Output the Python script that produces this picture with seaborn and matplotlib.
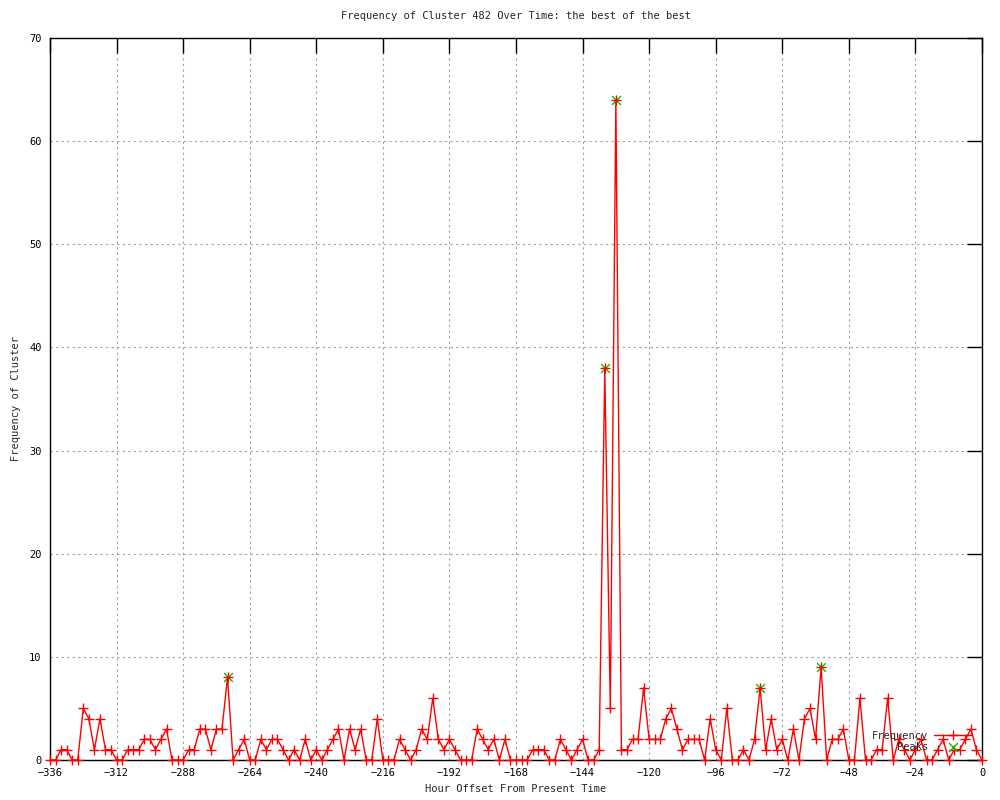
import matplotlib
matplotlib.use('Agg')
import matplotlib.pyplot as plt
import pandas as pd
import seaborn as sns

# hour offsets, one sample every 2 hours
hours = list(range(-336, 1, 2))
freq = [0, 0, 1, 1, 0, 0, 5, 4, 1, 4, 1, 1, 0, 0, 1, 1, 1, 2, 2, 1,
        2, 3, 0, 0, 0, 1, 1, 3, 3, 1, 3, 3, 8, 0, 1, 2, 0, 0, 2, 1,
        2, 2, 1, 0, 1, 0, 2, 0, 1, 0, 1, 2, 3, 0, 3, 1, 3, 0, 0, 4,
        0, 0, 0, 2, 1, 0, 1, 3, 2, 6, 2, 1, 2, 1, 0, 0, 0, 3, 2, 1,
        2, 0, 2, 0, 0, 0, 0, 1, 1, 1, 0, 0, 2, 1, 0, 1, 2, 0, 0, 1,
        38, 5, 64, 1, 1, 2, 2, 7, 2, 2, 2, 4, 5, 3, 1, 2, 2, 2, 0, 4,
        1, 0, 5, 0, 0, 1, 0, 2, 7, 1, 4, 1, 2, 0, 3, 0, 4, 5, 2, 9,
        0, 2, 2, 3, 0, 0, 6, 0, 0, 1, 1, 6, 0, 2, 1, 0, 1, 2, 0, 0,
        1, 2, 0, 1, 1, 2, 3, 1, 0]

peak_hours = [-272, -136, -132, -80, -58]
peak_vals = [8, 38, 64, 7, 9]

x_ticks = list(range(-336, 1, 24))
y_ticks = list(range(0, 71, 10))


def main():
    sns.set_style('white')
    plt.rcParams['font.family'] = ['DejaVu Sans Mono']
    plt.rcParams['font.size'] = 7.5

    df = pd.DataFrame({'hour': hours, 'freq': freq})
    pk = pd.DataFrame({'hour': peak_hours, 'freq': peak_vals})

    fig, ax = plt.subplots(figsize=(10, 8), dpi=100)
    fig.subplots_adjust(left=0.05, right=0.982, bottom=0.05, top=0.9525)

    sns.scatterplot(x='hour', y='freq', data=pk, ax=ax, color='#00c000',
                    marker='x', s=40, linewidth=1, label='Peaks',
                    clip_on=False, zorder=2)
    sns.lineplot(x='hour', y='freq', data=df, ax=ax, color='#ff0000',
                 linewidth=1, marker='+', markersize=7, markeredgewidth=1,
                 markeredgecolor='#ff0000', label='Frequency',
                 clip_on=False, zorder=3)

    ax.set_xlim(-336, 0)
    ax.set_ylim(0, 70)
    ax.set_xticks(x_ticks)
    ax.set_yticks(y_ticks)
    ax.grid(True, color='#a0a0a0', linestyle=(0, (2, 3)), linewidth=0.8)
    ax.tick_params(direction='in', length=11, width=1, top=True, right=True,
                   colors='black', labelsize=7.5, pad=6)
    for s in ax.spines.values():
        s.set_color('black')
        s.set_linewidth(1)

    ax.set_title('Frequency of Cluster 482 Over Time: the best of the best',
                 fontsize=7.5, pad=14)
    ax.set_xlabel('Hour Offset From Present Time', fontsize=7.5, labelpad=4)
    ax.set_ylabel('Frequency of Cluster', fontsize=7.5, labelpad=6)

    h, l = ax.get_legend_handles_labels()
    order = [l.index('Frequency'), l.index('Peaks')]
    ax.legend([h[i] for i in order], [l[i] for i in order],
              loc='lower right', bbox_to_anchor=(0.997, 0.0), frameon=False,
              markerfirst=False, fontsize=7.5, labelspacing=0.1,
              handlelength=3.5, handletextpad=0.6, borderpad=0.3)

    fig.savefig('out.png', dpi=100)


if __name__ == '__main__':
    main()
